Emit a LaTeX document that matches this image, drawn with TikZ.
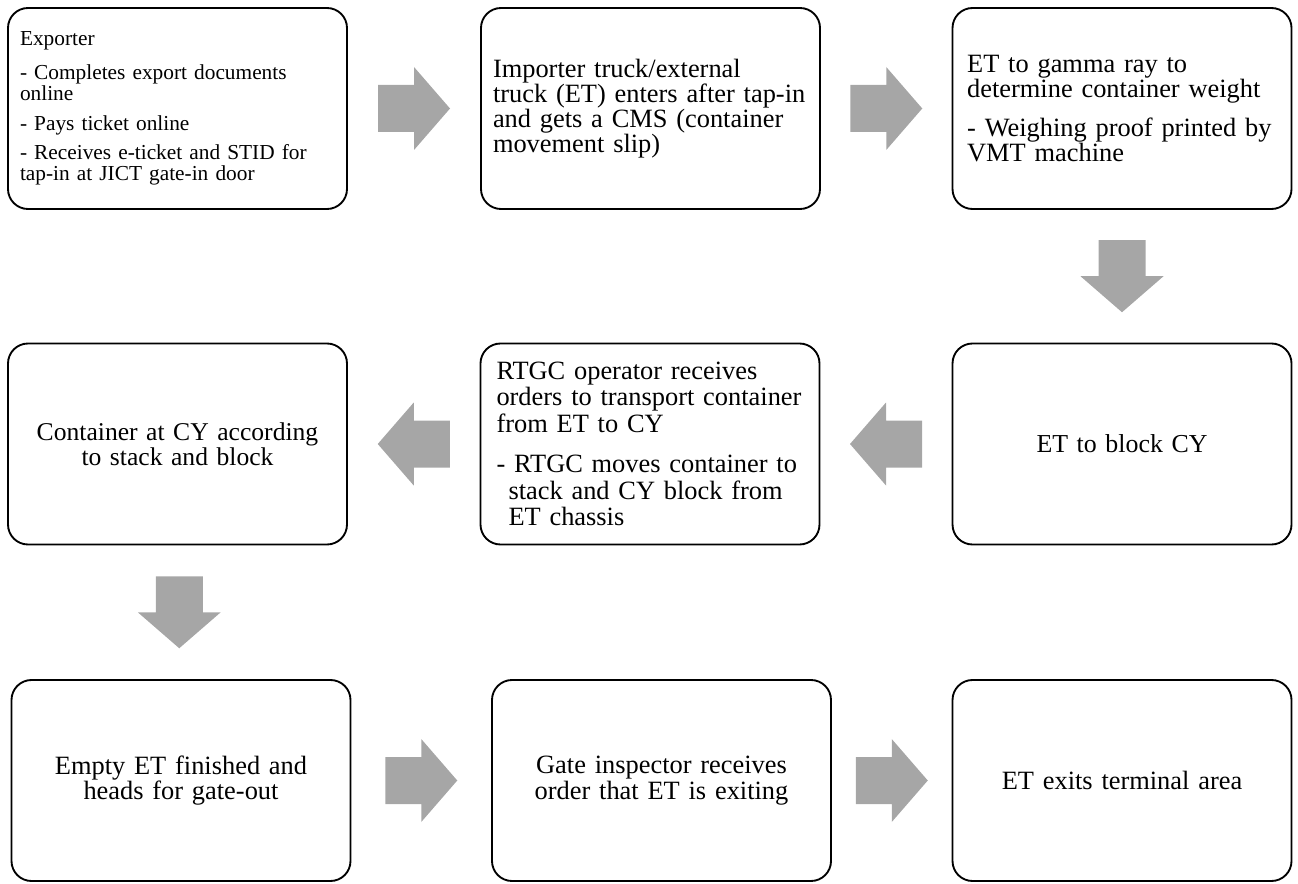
\documentclass[tikz,border=0pt]{standalone}
\usepackage{fontspec}
\setmainfont{Liberation Serif}
\usepackage{tikz}
\usetikzlibrary{positioning, calc}
\definecolor{kgray}{HTML}{A6A6A6}

\begin{document}
\begin{tikzpicture}[x=0.75pt, y=0.75pt,
  stepbox/.style={draw=black, line width=1.4pt, rounded corners=15pt,
    minimum width=254.25pt, minimum height=150.75pt, inner xsep=9pt,
    text width=236.25pt},
  blockarrow/.pic={\fill[kgray] (-36,-23.5) -- (0,-23.5) -- (0,-41.5) -- (36,0)
    -- (0,41.5) -- (0,23.5) -- (-36,23.5) -- cycle;}]
\useasboundingbox (0,0) rectangle (1298,883);
% row 1
\node[stepbox, align=left, font=\fontsize{16}{15.5}\selectfont]
  (exporter) at (177.5,774.5) {Exporter\\[10pt]- Completes export documents\\online\\[6.75pt]- Pays ticket online\\[6.75pt]- Receives e-ticket and STID for\\tap-in at JICT gate-in door};
\node[stepbox, align=left, font=\fontsize{19.8}{18.75}\selectfont]
  (importer) at (650.5,774.5) {Importer truck/external\\truck (ET) enters after tap-in\\and gets a CMS (container\\movement slip)};
\node[stepbox, align=left, font=\fontsize{19.8}{18}\selectfont]
  (gamma) at (1122,774.5) {\hspace*{2pt}ET to gamma ray to\\\hspace*{2pt}determine container weight\\[9.75pt]\hspace*{2pt}- Weighing proof printed by\\\hspace*{2pt}VMT machine};
% row 2
\node[stepbox, align=center, font=\fontsize{19.4}{19}\selectfont]
  (toblock) at (1122,439) {ET to block CY};
\node[stepbox, align=left, font=\fontsize{19.8}{20}\selectfont]
  (rtgc) at (650,439) {\hspace*{3pt}RTGC operator receives\\\hspace*{3pt}orders to transport container\\\hspace*{3pt}from ET to CY\\[10pt]\hspace*{3pt}- RTGC moves container to\\\hspace*{12pt}stack and CY block from\\\hspace*{12pt}ET chassis};
\node[stepbox, align=center, font=\fontsize{19.2}{18.75}\selectfont]
  (stack) at (177.5,439) {Container at CY according\\to stack and block};
% row 3
\node[stepbox, align=center, font=\fontsize{19.8}{17}\selectfont]
  (emptyet) at (181,102.5) {Empty ET finished and\\heads for gate-out};
\node[stepbox, align=center, font=\fontsize{19.8}{17}\selectfont]
  (gateinsp) at (661.5,102.5) {Gate inspector receives\\order that ET is exiting};
\node[stepbox, align=center, font=\fontsize{19.8}{17}\selectfont]
  (exit) at (1122,102.5) {ET exits terminal area};
% arrows
\pic at ($(exporter.east)!0.5!(importer.west)$) {blockarrow};
\pic at ($(importer.east)!0.5!(gamma.west)$) {blockarrow};
\pic[rotate=-90] at ($(gamma.south)!0.5!(toblock.north)$) {blockarrow};
\pic[rotate=180] at ($(toblock.west)!0.5!(rtgc.east)$) {blockarrow};
\pic[rotate=180] at ($(rtgc.west)!0.5!(stack.east)$) {blockarrow};
\pic[rotate=-90] at ($(stack.south)!0.5!(emptyet.north)$) {blockarrow};
\pic at ($(emptyet.east)!0.5!(gateinsp.west)$) {blockarrow};
\pic at ($(gateinsp.east)!0.5!(exit.west)$) {blockarrow};
\end{tikzpicture}
\end{document}
